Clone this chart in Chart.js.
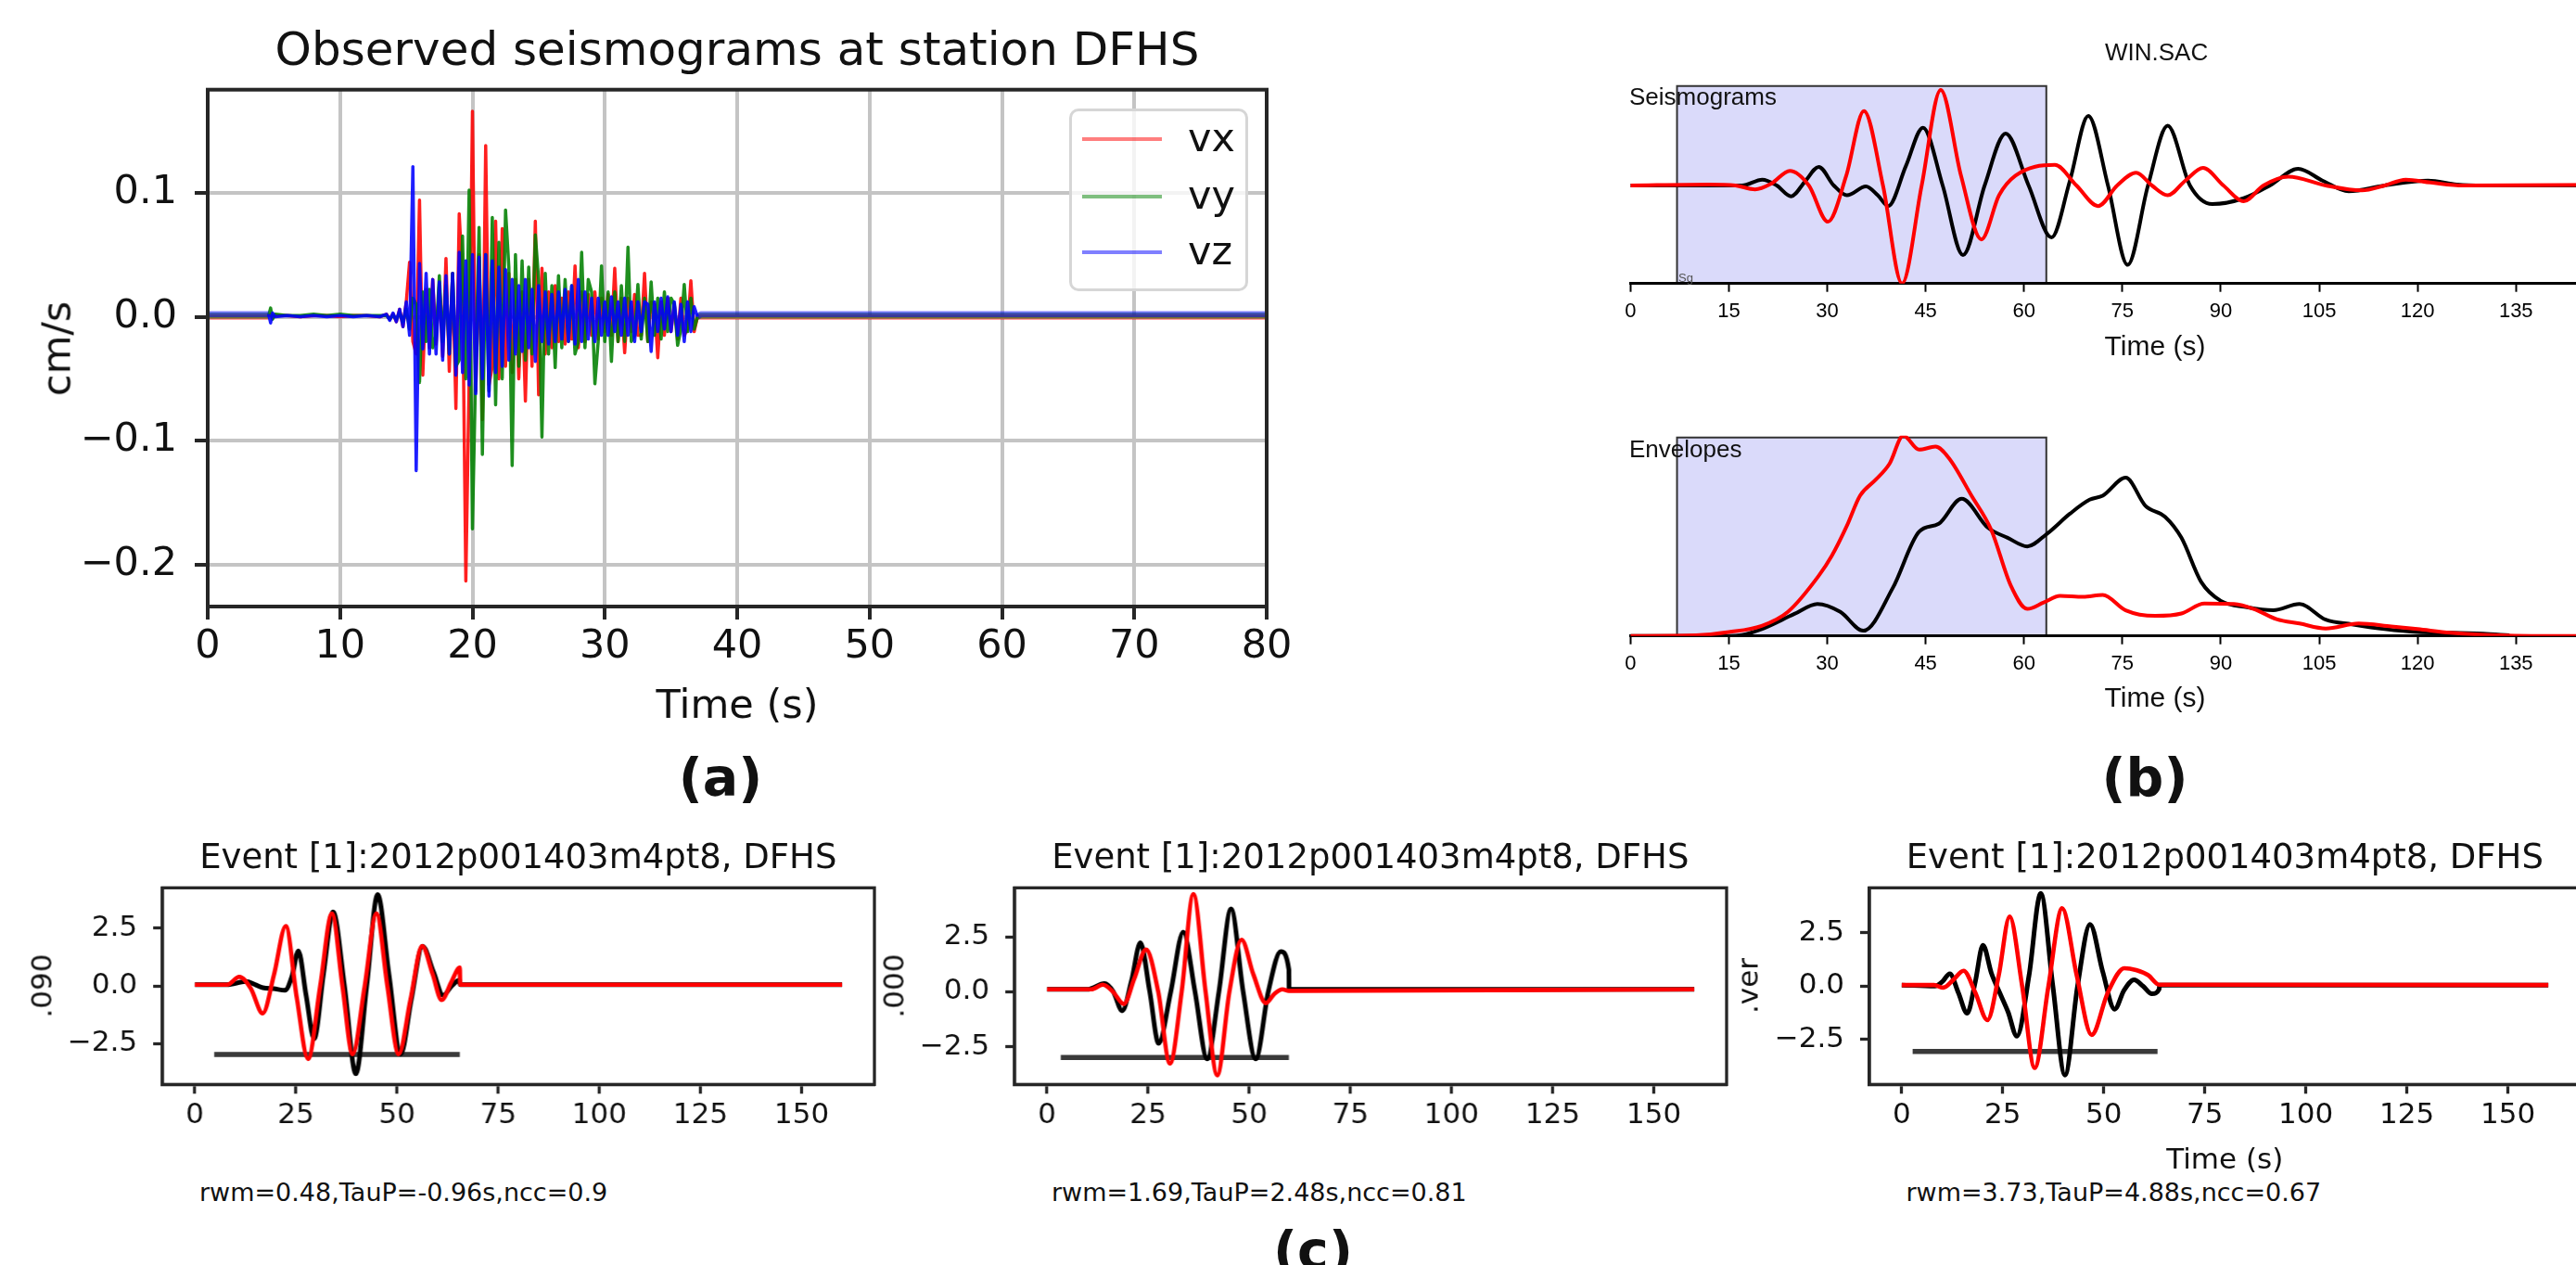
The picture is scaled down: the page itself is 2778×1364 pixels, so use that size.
<!DOCTYPE html>
<html>
<head>
<meta charset="utf-8">
<title>DFHS seismograms</title>
<script src="https://cdn.jsdelivr.net/npm/chart.js@4.4.1/dist/chart.umd.min.js"></script>
<style>
  html, body { margin: 0; padding: 0; background: #fff; overflow: hidden; }
  body { position: relative; width: 2778px; height: 1364px; }
  canvas { position: absolute; }
  .txt { position: absolute; white-space: nowrap; line-height: 1; color: #111; }
  .legend { position: absolute; box-sizing: border-box; border: 3px solid #d6d6d6; border-radius: 10px; background: rgba(255,255,255,0.8); }
  .legend span { position: absolute; height: 4px; }
</style>
</head>
<body>
<script>
// ---------- (a) observed seismograms, cm/s ----------
const timeA = [0, 4.6, 4.75, 4.9, 5.1, 6, 7, 8, 9, 10, 11, 12, 13, 13.5, 13.75,
  14, 14.25, 14.5, 14.75, 15, 15.25, 15.5, 15.75, 16, 16.25, 16.5, 16.75,
  17, 17.25, 17.5, 17.75, 18, 18.25, 18.5, 18.75, 19, 19.25, 19.5, 19.75,
  20, 20.25, 20.5, 20.75, 21, 21.25, 21.5, 21.75, 22, 22.25, 22.5, 22.75,
  23, 23.25, 23.5, 23.75, 24, 24.25, 24.5, 24.75, 25, 25.25, 25.5, 25.75,
  26, 26.25, 26.5, 26.75, 27, 27.25, 27.5, 27.75, 28, 28.25, 28.5, 28.75,
  29, 29.25, 29.5, 29.75, 30, 30.25, 30.5, 30.75, 31, 31.25, 31.5, 31.75,
  32, 32.25, 32.5, 32.75, 33, 33.25, 33.5, 33.75, 34, 34.25, 34.5, 34.75,
  35, 35.25, 35.5, 35.75, 36, 36.25, 36.5, 36.75, 37, 37.25, 80];

const vx = [0, 0, 0.002, -0.001, 0.001, 0.001, 0, 0.001, 0.001, 0, 0.001, 0.001, 0, 0.002, -0.002,
  0.002, -0.004, 0.006, -0.008, 0.012, 0.044, -0.02, -0.03, 0.094, -0.047, 0.022, -0.025,
  0.03, -0.022, 0.026, -0.032, 0.047, -0.044, 0.035, -0.074, 0.083, 0.03, -0.213, -0.05,
  0.1655, -0.06, 0.05, -0.083, 0.138, -0.055, -0.04, 0.077, -0.05, 0.071, -0.04, 0.035,
  -0.045, 0.03, -0.05, 0.02, -0.068, 0.03, -0.04, 0.077, -0.063, 0.039, -0.03, 0.02,
  -0.025, 0.025, -0.02, 0.015, -0.022, 0.02, -0.018, 0.041, -0.025, 0.02, -0.02, 0.018,
  -0.015, 0.02, -0.018, 0.015, -0.012, 0.018, -0.015, 0.039, -0.02, 0.015, -0.029, 0.015,
  -0.012, 0.018, -0.015, -0.015, 0.035, -0.02, 0.012, 0.01, -0.033, 0.012, -0.015, 0.015,
  -0.012, 0.01, -0.018, 0.015, -0.015, -0.01, 0.029, -0.012, 0, 0, 0];

const vy = [0.001, 0.001, 0.007, -0.002, 0.002, 0.001, 0.001, 0.002, 0.001, 0.002, 0.001, 0.001, 0.001, 0.001, -0.002,
  0.001, -0.002, 0.003, -0.004, 0.006, -0.01, 0.015, 0.01, -0.053, 0.02, -0.02, 0.022,
  -0.025, -0.015, 0.033, -0.02, 0.025, -0.03, 0.035, -0.04, -0.035, 0.065, -0.05, 0.102,
  -0.171, -0.04, 0.072, -0.111, 0.05, -0.06, 0.08, -0.071, 0.06, -0.05, 0.086, 0.04,
  -0.12, 0.05, -0.04, 0.045, -0.035, 0.04, -0.03, 0.066, 0.03, -0.097, 0.035, -0.03,
  0.025, -0.041, 0.033, -0.025, 0.03, -0.02, 0.025, -0.03, -0.02, 0.052, -0.025, 0.03,
  0.02, -0.054, -0.02, 0.041, -0.02, 0.02, -0.036, 0.02, -0.02, 0.025, -0.02, 0.056,
  -0.02, -0.015, 0.026, -0.018, 0.015, -0.02, 0.028, -0.015, 0.015, -0.018, 0.02, -0.012,
  0.015, 0.01, -0.023, -0.01, 0.026, -0.012, 0.015, -0.01, 0, 0.001, 0.001];

const vz = [0.002, 0.002, -0.005, 0.003, 0, 0.001, 0, 0.001, 0, 0.001, 0, 0.001, 0, 0.002, -0.003,
  0.003, -0.004, 0.006, -0.008, 0.012, -0.015, 0.121, -0.124, 0.043, -0.026, 0.035, -0.03,
  0.03, -0.03, 0.028, -0.035, 0.033, -0.03, 0.035, -0.047, 0.052, -0.045, 0.045, -0.055,
  0.05, -0.062, 0.048, -0.05, 0.05, -0.064, 0.045, -0.045, 0.04, -0.04, 0.038, -0.035,
  0.03, -0.03, 0.025, -0.028, 0.03, -0.025, 0.022, -0.036, 0.025, -0.02, 0.02, -0.022,
  0.018, -0.02, 0.02, -0.018, 0.022, -0.02, 0.025, -0.022, 0.03, -0.02, 0.02, -0.018,
  0.015, -0.02, 0.015, -0.015, 0.012, -0.015, 0.016, -0.012, 0.012, -0.015, 0.015, -0.015,
  0.012, -0.02, 0.012, -0.012, 0.012, 0.01, -0.028, 0.012, -0.012, 0.015, -0.01, 0.016,
  -0.012, 0.012, -0.015, 0.01, -0.02, 0.012, -0.012, 0.008, 0, 0.002, 0.002];

const tickA_x = [0, 10, 20, 30, 40, 50, 60, 70, 80];
const tickA_y = [-0.2, -0.1, 0, 0.1];
const tickA_yLabels = ['\u22120.2', '\u22120.1', '0.0', '0.1'];

// ---------- (b) WIN.SAC: seismograms and envelopes ----------
const tSeisObs = [0, 10, 17, 20.1, 22.3, 24.5, 26.6, 28.7, 31, 33, 35.9, 37.7, 39.3, 42, 44.6, 47.6, 50.7, 54, 57.2, 60.7,
  64.2, 67, 69.8, 72.8, 75.8, 78.9, 81.9, 85.3, 88.7, 93.5, 97.5, 101.8, 105.5, 109.5, 115, 121.6, 126, 130, 160];
const seisObs = [0, 0, 0, 0.06, 0, -0.11, 0.04, 0.19, 0, -0.10, -0.01, -0.10, -0.21, 0.2, 0.59, 0, -0.71, 0, 0.53, 0,
  -0.53, 0.05, 0.71, 0, -0.81, 0, 0.61, 0, -0.19, -0.13, 0, 0.17, 0.05, -0.06, 0, 0.05, 0.01, 0, 0];
const tSeisSyn = [0, 12, 16, 19, 21.5, 24.3, 27.2, 30.1, 32.9, 35.6, 38.5, 41.4, 44.4, 47.3, 50.4, 53.5, 56.2, 58.7, 64.7, 68,
  71.3, 74.2, 77.1, 79.5, 81.9, 84.6, 87.3, 90.4, 93.5, 96.5, 100.3, 106, 111.5, 115, 118.2, 122, 127, 160];
const seisSyn = [0, 0.01, 0, -0.04, 0.02, 0.15, 0, -0.37, 0.1, 0.76, 0, -1.0, 0, 0.975, 0.1, -0.55, -0.1, 0.10, 0.21, 0,
  -0.21, 0, 0.13, 0, -0.10, 0.05, 0.18, 0, -0.16, 0, 0.09, 0, -0.05, 0, 0.06, 0.03, 0, 0.01];

const tEnvObs = [0, 15, 17, 20, 25, 28.5, 32, 35.5, 40, 44, 47, 50.5, 54.5, 57.5, 60.5, 63.5, 67, 70, 72, 75.5,
  78.5, 81.5, 84, 87, 90, 94, 98, 102, 106, 110, 115, 120, 125, 130, 134];
const envObs = [0, 0, 0.005, 0.034, 0.11, 0.16, 0.12, 0.026, 0.24, 0.52, 0.56, 0.685, 0.54, 0.49, 0.447, 0.51, 0.61, 0.68, 0.70, 0.79,
  0.65, 0.595, 0.49, 0.27, 0.175, 0.143, 0.128, 0.159, 0.081, 0.058, 0.034, 0.019, 0.016, 0.011, 0.003];
const tEnvSyn = [0, 10, 15, 20, 24, 28.7, 30.7, 33, 35, 37.4, 39.5, 41.6, 44, 46.5, 48.5, 52, 55, 58, 60.5, 63,
  65.5, 69, 72, 75.5, 80, 84, 87.5, 92, 95, 98.5, 102, 106, 111, 116, 120, 125, 130, 140, 160];
const envSyn = [0, 0.003, 0.019, 0.05, 0.12, 0.30, 0.40, 0.55, 0.70, 0.78, 0.86, 1.0, 0.93, 0.945, 0.89, 0.70, 0.53, 0.25, 0.135, 0.167,
  0.2, 0.195, 0.205, 0.128, 0.10, 0.112, 0.162, 0.159, 0.135, 0.084, 0.062, 0.037, 0.062, 0.047, 0.034, 0.016, 0.006, 0, 0];

const sgWindow = [7.1, 63.4];      // time window (s)
const seisBoxTop = 1.015;
const envBoxTop = 0.99;
const tickB_x = [0, 15, 30, 45, 60, 75, 90, 105, 120, 135, 150];

// ---------- (c) waveform fits, three components ----------
const tC1obs = [0, 8, 12.6, 15, 16.8, 19.5, 22.3, 24, 25.6, 27.5, 29.5, 31.8, 34.2, 37, 39.8, 42.5, 45.2, 48, 50.9, 53.5, 56.3, 59, 61.4, 63.5, 65.5, 65.6, 160];
const c1obs = [0.05, 0.05, 0.19, 0.05, -0.08, -0.12, -0.19, 0.4, 1.52, -0.4, -2.29, 0.5, 3.2, 0, -3.8, 0, 3.95, 0.5, -2.95, -0.6, 1.72, 0.6, -0.41, 0, 0.25, 0.05, 0.05];
const tC1syn = [0, 8, 11, 13.8, 16.8, 19.6, 22.5, 25.2, 28, 31, 33.9, 36.5, 39, 42, 44.9, 47.6, 50.4, 53.3, 56.2, 58.8, 61, 63.5, 65.5, 65.6, 160];
const c1syn = [0.05, 0.05, 0.39, -0.1, -1.19, 0.5, 2.59, -0.5, -3.16, 0, 3.13, 0, -2.95, 0, 3.13, 0, -2.95, -0.6, 1.72, 0.5, -0.61, 0.2, 0.79, 0.05, 0.05];
const c1win = [4.8, 65.5], c1winLevel = -2.96;

const tC2obs = [0, 10, 14.2, 16.4, 18.6, 20.9, 23.1, 25.4, 27.6, 30.6, 33.7, 36.6, 39.6, 42.5, 45.5, 48.5, 51.6, 54.7, 57.8, 59.8, 59.85, 160];
const c2obs = [0.11, 0.11, 0.37, 0, -0.87, 0.5, 2.23, 0, -2.35, 0, 2.72, 0, -3.06, 0, 3.77, 0, -3.06, 0, 1.83, 1.0, 0.11, 0.11];
const tC2syn = [0, 11, 13.8, 16.3, 19, 21.6, 24.5, 27.5, 30.4, 33.3, 36.2, 39.2, 42.1, 45.1, 48.1, 51, 54.1, 56.2, 58.2, 59.8, 160];
const c2syn = [0.11, 0.11, 0.32, 0, -0.56, 0.6, 1.92, 0, -3.27, 0, 4.45, 0, -3.8, 0, 2.37, 0.8, -0.52, -0.1, 0.11, 0.04, 0.11];
const c2win = [3.4, 59.8], c2winLevel = -2.99;

const tC3obs = [0, 8.2, 10, 11.9, 14, 16.2, 18.2, 20.1, 22.2, 24.2, 26.3, 28.5, 31.5, 34.4, 37.4, 40.4, 43.5, 46.6, 49.7, 52.7, 55, 57.5, 59.7, 61.9, 63.7, 63.8, 160];
const c3obs = [0.05, 0, 0.2, 0.58, -0.3, -1.27, 0.2, 1.91, 0.6, -0.29, -1.2, -2.34, 0.5, 4.34, 0, -4.16, 0, 2.89, 0.7, -1.08, -0.2, 0.29, 0, -0.36, -0.14, 0.05, 0.05];
const tC3syn = [0, 8, 10.3, 12.8, 15.3, 18.2, 21.2, 24, 26.7, 29.8, 32.9, 36.3, 39.7, 43.3, 47, 51, 55.1, 58, 61, 63.7, 160];
const c3syn = [0.05, 0.05, -0.07, 0.3, 0.72, -0.3, -1.59, 0.5, 3.25, 0, -3.83, 0, 3.64, 0.5, -2.28, -0.3, 0.84, 0.75, 0.51, 0.07, 0.05];
const c3win = [2.7, 63.3], c3winLevel = -3.06;

const tickC_x = [0, 25, 50, 75, 100, 125, 150];
const tickC_y = [-2.5, 0, 2.5];
const tickC_yLabels = ['\u22122.5', '0.0', '2.5'];

const cTitle = 'Event [1]:2012p001403m4pt8, DFHS';
const cComponents = ['.090', '.000', '.ver'];
const cNotes = ['rwm=0.48,TauP=-0.96s,ncc=0.9', 'rwm=1.69,TauP=2.48s,ncc=0.81', 'rwm=3.73,TauP=4.88s,ncc=0.67'];

// ---------- helpers ----------
const MPL = "'DejaVu Sans', sans-serif";
const SAC = "'Liberation Sans', Arial, sans-serif";

function pts(ts, vs) {
    return ts.map((t, i) => ({ x: t, y: vs[i] }));
}

function fixedTicks(values) {
    return axis => { axis.ticks = values.map(v => ({ value: v })); };
}

// draw text with its baseline at a given y
function addText(str, x, base, size, opt) {
    opt = opt || {};
    const d = document.createElement('div');
    d.className = 'txt';
    d.textContent = str;
    d.style.fontFamily = opt.family || MPL;
    d.style.fontSize = size + 'px';
    if (opt.bold) d.style.fontWeight = 'bold';
    if (opt.color) d.style.color = opt.color;
    if (opt.rotate) {
        d.style.left = (x - 0.346 * size) + 'px';
        d.style.top = base + 'px';
        d.style.transform = 'translate(-50%,-50%) rotate(-90deg)';
    } else {
        d.style.left = x + 'px';
        d.style.top = (base - 0.846 * size) + 'px';
        if (opt.center) d.style.transform = 'translateX(-50%)';
    }
    document.body.appendChild(d);
}

const framePlugin = {
    id: 'frame',
    afterDatasetsDraw(chart, args, opts) {
        const a = chart.chartArea, ctx = chart.ctx;
        ctx.save();
        ctx.strokeStyle = opts.color;
        ctx.lineWidth = opts.width;
        ctx.strokeRect(a.left, a.top, a.right - a.left, a.bottom - a.top);
        ctx.restore();
    }
};

const windowPlugin = {
    id: 'win',
    beforeDraw(chart, args, opts) {
        const xs = chart.scales.x, ys = chart.scales.y, ctx = chart.ctx;
        const x0 = xs.getPixelForValue(opts.from), x1 = xs.getPixelForValue(opts.to);
        const yt = ys.getPixelForValue(opts.top), yb = chart.chartArea.bottom;
        ctx.save();
        ctx.fillStyle = '#dadafa';
        ctx.fillRect(x0, yt, x1 - x0, yb - yt);
        ctx.strokeStyle = '#333';
        ctx.lineWidth = 2;
        ctx.beginPath();
        ctx.moveTo(x0, yb); ctx.lineTo(x0, yt); ctx.lineTo(x1, yt); ctx.lineTo(x1, yb);
        ctx.stroke();
        ctx.restore();
    }
};

// box = canvas rectangle, area = wanted plot area (page pixels)
function makeChart(box, area, cfg, yShown) {
    const cv = document.createElement('canvas');
    cv.width = box.w; cv.height = box.h;
    cv.style.left = box.x + 'px'; cv.style.top = box.y + 'px';
    cv.style.width = box.w + 'px'; cv.style.height = box.h + 'px';
    document.body.appendChild(cv);
    const o = cfg.options;
    o.responsive = false;
    o.animation = false;
    o.devicePixelRatio = 1;
    o.layout = { padding: { left: yShown ? 0 : area.l - box.x, top: area.t - box.y, right: box.x + box.w - area.r, bottom: 0 } };
    o.scales.x.afterFit = s => { s.height = box.y + box.h - area.b; };
    if (yShown) o.scales.y.afterFit = s => { s.width = area.l - box.x; };
    return new Chart(cv.getContext('2d'), cfg);
}

// ---------- panel (a) ----------
const quietBefore = 4.6, quietAfter = 37;
function quiet(ctx) {
    return ctx.p1.parsed.x <= quietBefore || ctx.p0.parsed.x >= quietAfter;
}
const compA = [
    { label: 'vx', values: vx, strong: 'rgba(255,0,0,0.88)', pale: 'rgba(255,0,0,0.5)', order: 3 },
    { label: 'vy', values: vy, strong: 'rgba(0,128,0,0.88)', pale: 'rgba(0,128,0,0.5)', order: 2 },
    { label: 'vz', values: vz, strong: 'rgba(0,0,255,0.88)', pale: 'rgba(0,0,255,0.5)', order: 1 }
];

makeChart({ x: 0, y: 0, w: 1410, h: 740 }, { l: 224, t: 96.7, r: 1366, b: 654 }, {
    type: 'line',
    data: {
        datasets: compA.map(c => ({
            label: c.label,
            data: pts(timeA, c.values),
            borderColor: c.strong,
            borderWidth: 3.5,
            order: c.order,
            segment: {
                borderColor: ctx => quiet(ctx) ? c.pale : undefined,
                borderWidth: ctx => quiet(ctx) ? 6.5 : undefined
            }
        }))
    },
    options: {
        elements: { point: { radius: 0 }, line: { tension: 0, borderJoinStyle: 'round' } },
        plugins: { legend: { display: false }, tooltip: { enabled: false }, frame: { color: '#262626', width: 4 } },
        scales: {
            x: {
                type: 'linear', min: 0, max: 80,
                afterBuildTicks: fixedTicks(tickA_x),
                ticks: { font: { family: MPL, size: 43 }, color: '#111', padding: 4, autoSkip: false, maxRotation: 0, callback: v => String(v) },
                grid: { color: '#c4c4c4', lineWidth: 4, tickLength: 14, tickColor: '#262626', tickWidth: 4 },
                border: { color: '#262626', width: 4 }
            },
            y: {
                type: 'linear', min: -0.2336, max: 0.183,
                afterBuildTicks: fixedTicks(tickA_y),
                ticks: { font: { family: MPL, size: 43 }, color: '#111', padding: 19, callback: (v, i) => tickA_yLabels[i] },
                grid: { color: '#c4c4c4', lineWidth: 4, tickLength: 14, tickColor: '#262626', tickWidth: 4 },
                border: { color: '#262626', width: 4 }
            }
        }
    },
    plugins: [framePlugin]
}, true);

addText('Observed seismograms at station DFHS', 795, 70.6, 50, { center: true });
addText('Time (s)', 795, 774, 43, { center: true });
addText('cm/s', 76, 375.5, 43, { rotate: true });
addText('(a)', 777, 858, 57, { center: true, bold: true });

// legend box for (a)
const legendBox = document.createElement('div');
legendBox.className = 'legend';
legendBox.style.left = '1153px'; legendBox.style.top = '117px';
legendBox.style.width = '193px'; legendBox.style.height = '197px';
document.body.appendChild(legendBox);
const legendRows = [150, 211.7, 272.3];
compA.forEach((c, i) => {
    const line = document.createElement('span');
    line.style.left = '11px';
    line.style.top = (legendRows[i] - 2 - 120) + 'px';
    line.style.width = '86px';
    line.style.background = c.pale;
    legendBox.appendChild(line);
    addText(c.label, 1281, legendRows[i] + 13.5, 43);
});

// ---------- panel (b) ----------
function sacChart(top, yMin, yMax, boxTop, obsT, obsV, synT, synV) {
    const axisY = top + 305.7;
    const areaTop = axisY - (yMax - yMin) * (yMin < 0 ? 105.7 : 216);
    return makeChart({ x: 1700, y: top, w: 1210, h: 366 }, { l: 1758.3, t: areaTop, r: 2890.1, b: axisY }, {
        type: 'line',
        data: {
            datasets: [
                { data: pts(obsT, obsV), borderColor: '#000', borderWidth: 4, order: 2 },
                { data: pts(synT, synV), borderColor: '#ff0000', borderWidth: 4, order: 1 }
            ]
        },
        options: {
            elements: { point: { radius: 0 }, line: { cubicInterpolationMode: 'monotone' } },
            plugins: { legend: { display: false }, tooltip: { enabled: false }, win: { from: sgWindow[0], to: sgWindow[1], top: boxTop } },
            scales: {
                x: {
                    type: 'linear', min: 0, max: 160,
                    afterBuildTicks: fixedTicks(tickB_x),
                    ticks: { font: { family: SAC, size: 22 }, color: '#000', padding: 8, autoSkip: false, maxRotation: 0, callback: v => String(v) },
                    grid: { drawOnChartArea: false, tickLength: 9, tickColor: '#000', tickWidth: 2 },
                    border: { color: '#000', width: 3 }
                },
                y: { display: false, min: yMin, max: yMax }
            }
        },
        plugins: [windowPlugin]
    }, false);
}

sacChart(0, -1, 1.02, seisBoxTop, tSeisObs, seisObs, tSeisSyn, seisSyn);
sacChart(380.3, 0, 1.0, envBoxTop, tEnvObs, envObs, tEnvSyn, envSyn);

addText('WIN.SAC', 2325.6, 64.5, 26, { family: SAC, center: true });
addText('Seismograms', 1757, 113.3, 26, { family: SAC });
addText('Sg', 1810, 304, 13, { family: SAC, color: '#555' });
addText('Time (s)', 2324, 383, 30, { family: SAC, center: true });
addText('Envelopes', 1757, 492.5, 26, { family: SAC });
addText('Time (s)', 2324, 762, 30, { family: SAC, center: true });
addText('(b)', 2313, 858, 57, { center: true, bold: true });

// ---------- panel (c) ----------
const cPanels = [
    { l: 175, r: 942.5, yr: [-4.26, 4.24], obs: [tC1obs, c1obs], syn: [tC1syn, c1syn], win: c1win, level: c1winLevel },
    { l: 1094, r: 1861.5, yr: [-4.22, 4.73], obs: [tC2obs, c2obs], syn: [tC2syn, c2syn], win: c2win, level: c2winLevel },
    { l: 2015.5, r: 2783, yr: [-4.6, 4.6], obs: [tC3obs, c3obs], syn: [tC3syn, c3syn], win: c3win, level: c3winLevel }
];

cPanels.forEach((p, i) => {
    const area = { l: p.l, t: 957.3, r: p.r, b: 1169.3 };
    makeChart({ x: p.l - 150, y: 900, w: p.r - p.l + 170, h: 350 }, area, {
        type: 'line',
        data: {
            datasets: [
                { data: [{ x: p.win[0], y: p.level }, { x: p.win[1], y: p.level }], borderColor: '#3a3a3a', borderWidth: 5.5, order: 3 },
                { data: pts(p.obs[0], p.obs[1]), borderColor: '#000', borderWidth: 5, order: 2 },
                { data: pts(p.syn[0], p.syn[1]), borderColor: '#ff0000', borderWidth: 4.6, order: 1 }
            ]
        },
        options: {
            elements: { point: { radius: 0 }, line: { cubicInterpolationMode: 'monotone', borderCapStyle: 'butt' } },
            plugins: { legend: { display: false }, tooltip: { enabled: false }, frame: { color: '#262626', width: 3.3 } },
            scales: {
                x: {
                    type: 'linear', min: -8, max: 168,
                    afterBuildTicks: fixedTicks(tickC_x),
                    ticks: { font: { family: MPL, size: 31 }, color: '#111', padding: 5, autoSkip: false, maxRotation: 0, callback: v => String(v) },
                    grid: { drawOnChartArea: false, tickLength: 10, tickColor: '#262626', tickWidth: 3.3 },
                    border: { color: '#262626', width: 3.3 }
                },
                y: {
                    type: 'linear', min: p.yr[0], max: p.yr[1],
                    afterBuildTicks: fixedTicks(tickC_y),
                    ticks: { font: { family: MPL, size: 31 }, color: '#111', padding: 17, callback: (v, k) => tickC_yLabels[k] },
                    grid: { drawOnChartArea: false, tickLength: 10, tickColor: '#262626', tickWidth: 3.3 },
                    border: { color: '#262626', width: 3.3 }
                }
            }
        },
        plugins: [framePlugin]
    }, true);

    const mid = (p.l + p.r) / 2;
    addText(cTitle, mid, 936.7, 37, { center: true });
    addText(cComponents[i], p.l - 119.7, 1063.3, 31, { rotate: true });
    addText(cNotes[i], p.l + 40, 1295, 27);
});
addText('Time (s)', (cPanels[2].l + cPanels[2].r) / 2, 1260, 31, { center: true });
addText('(c)', 1416, 1368, 57, { center: true, bold: true });
</script>
</body>
</html>
